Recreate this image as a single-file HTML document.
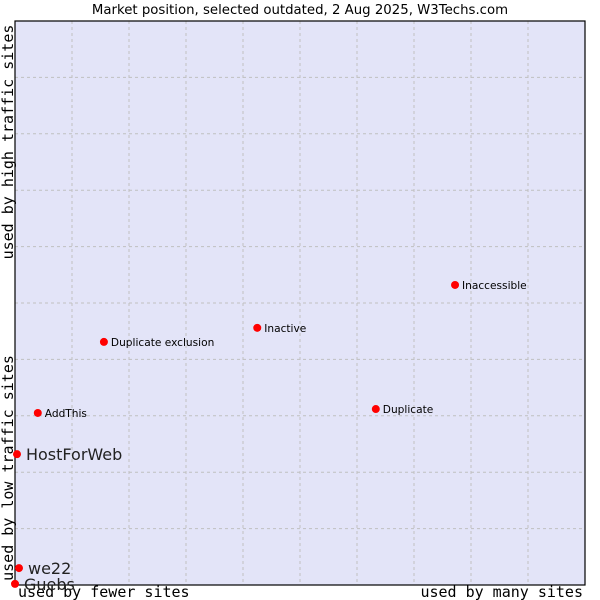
<!DOCTYPE html>
<html><head><meta charset="utf-8"><style>body{margin:0;background:#fff}svg{display:block}</style></head>
<body>
<svg width="600" height="600" xmlns="http://www.w3.org/2000/svg">
<text x="300" y="14" text-anchor="middle" font-family="DejaVu Sans, sans-serif" font-size="13.3">Market position, selected outdated, 2 Aug 2025, W3Techs.com</text>
<rect x="15" y="21" width="570" height="564" fill="#e3e4f8"/>
<g id="grid"></g>
<rect x="15" y="21" width="570" height="564" fill="none" stroke="#000" stroke-width="1.2"/>
<text transform="translate(13,142) rotate(-90)" text-anchor="middle" font-family="DejaVu Sans Mono, Liberation Mono, monospace" font-size="15">used by high traffic sites</text>
<text transform="translate(13,468) rotate(-90)" text-anchor="middle" font-family="DejaVu Sans Mono, Liberation Mono, monospace" font-size="15">used by low traffic sites</text>
<text x="18" y="597" font-family="DejaVu Sans Mono, Liberation Mono, monospace" font-size="15">used by fewer sites</text>
<text x="583" y="597" text-anchor="end" font-family="DejaVu Sans Mono, Liberation Mono, monospace" font-size="15">used by many sites</text>
<g id="points"></g>
</svg>
<script>
const names = ["Inaccessible","Inactive","Duplicate exclusion","AddThis","Duplicate","HostForWeb","we22","Guebs"];
const xValues = [77.2,42.5,15.6,4.0,63.3,0.35,0.7,0.0];
const yValues = [53.2,45.6,43.1,30.5,31.2,23.2,3.0,0.2];
const bigLabel = [false,false,false,false,false,true,true,true];
const NS="http://www.w3.org/2000/svg";
const L=15,R=585,T=21,B=585;
const sx=v=>L+(R-L)*v/100, sy=v=>B-(B-T)*v/100;
const grid=document.getElementById('grid');
for(let i=1;i<10;i++){
  const l=document.createElementNS(NS,'line');
  
  
  l.setAttribute('x1',sx(i*10));l.setAttribute('x2',sx(i*10));l.setAttribute('y1',T);l.setAttribute('y2',B);
  l.setAttribute('stroke','#c0c0c0');l.setAttribute('stroke-dasharray','3,3');grid.appendChild(l);
  const h=document.createElementNS(NS,'line');
  
  
  h.setAttribute('y1',sy(i*10));h.setAttribute('y2',sy(i*10));h.setAttribute('x1',L);h.setAttribute('x2',R);
  h.setAttribute('stroke','#c0c0c0');h.setAttribute('stroke-dasharray','3,3');grid.appendChild(h);
}
const pts=document.getElementById('points');
names.forEach((n,i)=>{
  const x=sx(xValues[i]),y=sy(yValues[i]);
  const c=document.createElementNS(NS,'circle');
  
  
  c.setAttribute('cx',x);c.setAttribute('cy',y);c.setAttribute('r',4);c.setAttribute('fill','#f00');
  pts.appendChild(c);
  const t=document.createElementNS(NS,'text');
  
  
  t.setAttribute('x',x+(bigLabel[i]?9:7));t.setAttribute('y',y+(bigLabel[i]?6:4));
  t.setAttribute('font-family','DejaVu Sans, sans-serif');
  t.setAttribute('font-size',bigLabel[i]?16:10.6);
  t.setAttribute('fill',bigLabel[i]?'#222':'#000');
  t.textContent=n;pts.appendChild(t);
});
</script>
</body></html>
